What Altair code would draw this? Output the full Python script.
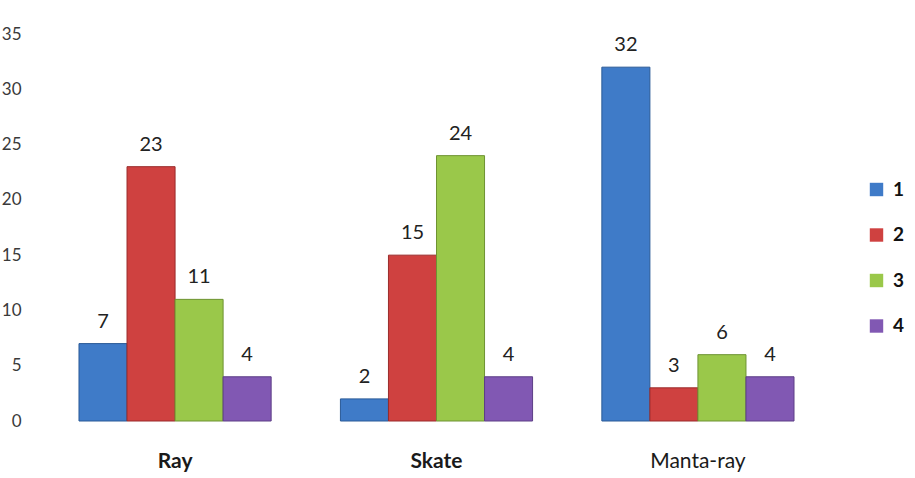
import altair as alt
import pandas as pd

categories = ["Ray", "Skate", "Manta-ray"]
series = ["1", "2", "3", "4"]
values_1 = [7, 2, 32]
values_2 = [23, 15, 3]
values_3 = [11, 24, 6]
values_4 = [4, 4, 4]
fill_colors = ["#3F7BC8", "#CF4140", "#9AC84A", "#8158B3"]
edge_colors = ["#2A5A97", "#9A2B2A", "#6E9332", "#5C3E86"]

rows = []
for s, vals in zip(series, [values_1, values_2, values_3, values_4]):
    for c, v in zip(categories, vals):
        rows.append({"animal": c, "series": s, "value": v})
df = pd.DataFrame(rows)

FONT = "Lato"

x = alt.X("animal:N", sort=categories, title=None,
          scale=alt.Scale(paddingInner=0.265, paddingOuter=0.13),
          axis=alt.Axis(labelAngle=0, labelFont=FONT, labelFontSize=21,
                        labelFontWeight=alt.ExprRef(expr="datum.value == 'Manta-ray' ? 'normal' : 'bold'"),
                        labelColor="#1a1a1a",
                        labelPadding=29, domain=False, ticks=False))
y = alt.Y("value:Q", title=None,
          scale=alt.Scale(domain=[0, 35]),
          axis=alt.Axis(values=[0, 5, 10, 15, 20, 25, 30, 35], labelFont=FONT,
                        labelFontSize=17, labelColor="#3a3a3a", labelPadding=24,
                        domain=False, ticks=False, grid=False))
xo = alt.XOffset("series:N", sort=series, scale=alt.Scale(paddingInner=0, paddingOuter=0))

base = alt.Chart(df)

bars = base.mark_bar(strokeWidth=1).encode(
    x=x, y=y, xOffset=xo,
    color=alt.Color("series:N", sort=series,
                    scale=alt.Scale(domain=series, range=fill_colors),
                    legend=alt.Legend(title=None, orient="none", legendX=822, legendY=146,
                                      symbolType="square", symbolSize=180,
                                      symbolStrokeWidth=0,
                                      labelFont=FONT, labelFontSize=19,
                                      labelFontWeight="bold", labelColor="#111111",
                                      rowPadding=25.5, labelOffset=7)),
    stroke=alt.Stroke("series:N", sort=series,
                      scale=alt.Scale(domain=series, range=edge_colors), legend=None),
)

labels = base.mark_text(font=FONT, fontSize=20, color="#222222",
                        baseline="alphabetic", dy=-16).encode(
    x=x, y=y, xOffset=xo, text="value:Q")

chart = alt.layer(bars, labels).properties(
    width=783, height=387,
    autosize=alt.AutoSizeParams(type="none"),
    padding={"left": 45, "top": 34, "right": 87, "bottom": 57},
).configure(background="white").configure_view(stroke=None)

chart.save("out.html", embed_options={"renderer": "svg", "actions": False})
